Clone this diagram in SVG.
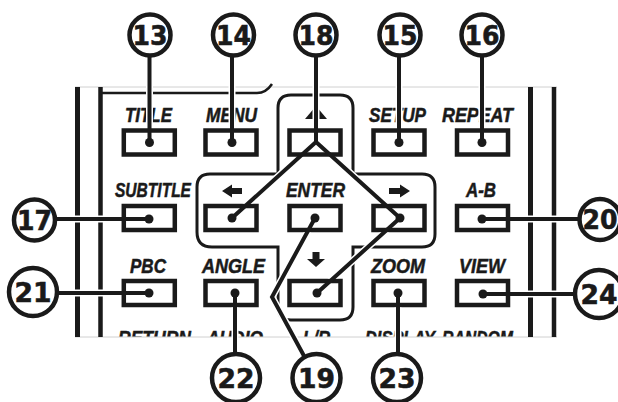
<svg xmlns="http://www.w3.org/2000/svg" width="618" height="402" viewBox="0 0 618 402">
<style>
.lbl{font-family:"Liberation Sans",Arial,sans-serif;font-weight:bold;font-style:italic;font-size:19.5px;fill:#1a1a1a;stroke:#1a1a1a;stroke-width:0.5}
.btn{fill:none;stroke:#1a1a1a;stroke-width:4.5}
.num{font-family:"DejaVu Sans",sans-serif;font-weight:bold;font-size:27px;fill:#1a1a1a;stroke:#1a1a1a;stroke-width:0.6;text-anchor:middle}
.cs{fill:#fff;stroke:#1a1a1a;stroke-width:4.5}
.ln{fill:none;stroke:#1a1a1a;stroke-width:4;stroke-linejoin:miter}
.halo{fill:none;stroke:#fff;stroke-width:7;stroke-linejoin:miter}
.dot{fill:#1a1a1a}
.frame{stroke:#1a1a1a;stroke-width:5}
.gray{stroke:#d0d0d0;stroke-width:1}
.arr{fill:#1a1a1a}
.pad{fill:none;stroke:#1a1a1a;stroke-width:3}
</style>
<defs>
<clipPath id="clip4"><rect x="0" y="0" width="618" height="336.5"/></clipPath>
<mask id="hm">
<rect x="0" y="0" width="618" height="402" fill="#fff"/>
<g fill="#000">
<rect x="121" y="128" width="57" height="29"/>
<rect x="203" y="128" width="57" height="29"/>
<rect x="287" y="128" width="57" height="29"/>
<rect x="371" y="128" width="57" height="29"/>
<rect x="454" y="128" width="57" height="29"/>
<rect x="121" y="203.5" width="57" height="29"/>
<rect x="203" y="203.5" width="57" height="29"/>
<rect x="287" y="203.5" width="57" height="29"/>
<rect x="371" y="203.5" width="57" height="29"/>
<rect x="454" y="203.5" width="57" height="29"/>
<rect x="121" y="278.5" width="57" height="29"/>
<rect x="203" y="278.5" width="57" height="29"/>
<rect x="287" y="278.5" width="57" height="29"/>
<rect x="371" y="278.5" width="57" height="29"/>
<rect x="454" y="278.5" width="57" height="29"/>
</g>
</mask>
</defs>
<rect width="618" height="402" fill="#fff"/>

<g id="frame">
<line class="gray" x1="75" y1="87" x2="557" y2="87"/>
<line class="gray" x1="75" y1="337" x2="557" y2="337"/>
<line class="frame" x1="77.5" y1="87" x2="77.5" y2="337"/>
<line class="frame" x1="100.5" y1="87" x2="100.5" y2="337" style="stroke-width:4.5"/>
<line class="frame" x1="530.5" y1="87" x2="530.5" y2="337"/>
<line class="frame" x1="554" y1="87" x2="554" y2="337" style="stroke-width:4.5"/>
<path d="M100,93 H257 Q266,93 272,84" fill="none" stroke="#1a1a1a" stroke-width="2.5"/>
<path class="pad" d="M278,174 V108 Q278,95 291,95 H340 Q353,95 353,108 V174 H422 Q435,174 435,187 V234 Q435,247 422,247 H353 V307 Q353,320 340,320 H291 Q278,320 278,307 V247 H212 Q197,247 197,232 V187 Q197,174 210,174 Z"/>
<g clip-path="url(#clip4)">
<text class="lbl" x="118" y="344.5" textLength="73" lengthAdjust="spacingAndGlyphs">RETURN</text>
<text class="lbl" x="207" y="344.5" textLength="56" lengthAdjust="spacingAndGlyphs">AUDIO</text>
<text class="lbl" x="303" y="344.5" textLength="27" lengthAdjust="spacingAndGlyphs">L/R</text>
<text class="lbl" x="365" y="344.5" textLength="70" lengthAdjust="spacingAndGlyphs">DISPLAY</text>
<text class="lbl" x="442" y="344.5" textLength="71" lengthAdjust="spacingAndGlyphs">RANDOM</text>
</g>
</g>

<g id="btn-title"><text class="lbl" x="125" y="122" textLength="47" lengthAdjust="spacingAndGlyphs">TITLE</text><rect class="btn" x="123.8" y="130.5" width="51" height="24"/></g>
<g id="btn-menu"><text class="lbl" x="206" y="122" textLength="51" lengthAdjust="spacingAndGlyphs">MENU</text><rect class="btn" x="205.5" y="130.5" width="51" height="24"/></g>
<g id="btn-up"><path class="arr" d="M316,106 L327,119 L305,119 Z"/><rect class="btn" x="289.5" y="130.5" width="51" height="24"/></g>
<g id="btn-setup"><text class="lbl" x="369" y="122" textLength="57" lengthAdjust="spacingAndGlyphs">SETUP</text><rect class="btn" x="373.5" y="130.5" width="51" height="24"/></g>
<g id="btn-repeat"><text class="lbl" x="442" y="122" textLength="71" lengthAdjust="spacingAndGlyphs">REPEAT</text><rect class="btn" x="457" y="130.5" width="51" height="24"/></g>

<g id="btn-subtitle"><text class="lbl" x="115" y="197" textLength="76" lengthAdjust="spacingAndGlyphs">SUBTITLE</text><rect class="btn" x="123.8" y="206" width="51" height="24"/></g>
<g id="btn-left"><path class="arr" d="M222,191 L232,184.5 L232,188 L242,188 L242,194 L232,194 L232,197.5 Z"/><rect class="btn" x="205.5" y="206" width="51" height="24"/></g>
<g id="btn-enter"><text class="lbl" x="286" y="197" textLength="59" lengthAdjust="spacingAndGlyphs">ENTER</text><rect class="btn" x="289.5" y="206" width="51" height="24"/></g>
<g id="btn-right"><path class="arr" d="M410,191 L400,184.5 L400,188 L389,188 L389,194 L400,194 L400,197.5 Z"/><rect class="btn" x="373.5" y="206" width="51" height="24"/></g>
<g id="btn-ab"><text class="lbl" x="466" y="197" textLength="30" lengthAdjust="spacingAndGlyphs">A-B</text><rect class="btn" x="457" y="206" width="51" height="24"/></g>

<g id="btn-pbc"><text class="lbl" x="130" y="273" textLength="36" lengthAdjust="spacingAndGlyphs">PBC</text><rect class="btn" x="123.8" y="281" width="51" height="24"/></g>
<g id="btn-angle"><text class="lbl" x="202" y="273" textLength="63" lengthAdjust="spacingAndGlyphs">ANGLE</text><rect class="btn" x="205.5" y="281" width="51" height="24"/></g>
<g id="btn-down"><path class="arr" d="M316,267 L325,259 L319.5,259 L319.5,252 L312.5,252 L312.5,259 L307,259 Z"/><rect class="btn" x="289.5" y="281" width="51" height="24"/></g>
<g id="btn-zoom"><text class="lbl" x="371" y="273" textLength="54" lengthAdjust="spacingAndGlyphs">ZOOM</text><rect class="btn" x="373.5" y="281" width="51" height="24"/></g>
<g id="btn-view"><text class="lbl" x="459" y="273" textLength="46" lengthAdjust="spacingAndGlyphs">VIEW</text><rect class="btn" x="457" y="281" width="51" height="24"/></g>

<g id="connectors">
<g mask="url(#hm)">
<path class="halo" d="M149.5,35 V142.5 M232,35 V142.5 M399,35 V142.5 M482,35 V142.5 M316,35 V142 M232,218 L316,142 L400,218 L317,293 M34,219 H149 M482,219 H600 M33,293 H149 M483,294 H599 M235,293 V378 M398,293 V378 M315,218 L272,297 L316,378"/>
</g>
<path class="ln" d="M149.5,35 V142.5 M232,35 V142.5 M399,35 V142.5 M482,35 V142.5 M316,35 V142 M232,218 L316,142 L400,218 L317,293 M34,219 H149 M482,219 H600 M33,293 H149 M483,294 H599 M235,293 V378 M398,293 V378 M315,218 L272,297 L316,378"/>
<g class="dot">
<circle cx="149.5" cy="142.5" r="4.5"/><circle cx="232" cy="142.5" r="4.5"/><circle cx="399" cy="142.5" r="4.5"/><circle cx="482" cy="142.5" r="4.5"/>
<circle cx="149" cy="219" r="4.5"/><circle cx="232" cy="218" r="4.5"/><circle cx="315" cy="218" r="4.5"/><circle cx="400" cy="218" r="4.5"/><circle cx="482" cy="219" r="4.5"/>
<circle cx="149" cy="293" r="4.5"/><circle cx="235" cy="293" r="4.5"/><circle cx="317" cy="293" r="4.5"/><circle cx="398" cy="293" r="4.5"/><circle cx="483" cy="294" r="4.5"/>
</g>
</g>

<g id="c13"><circle class="cs" cx="150" cy="35" r="20.5"/><text class="num" x="150" y="44.5" textLength="35" lengthAdjust="spacingAndGlyphs">13</text></g>
<g id="c14"><circle class="cs" cx="233.5" cy="35" r="20.5"/><text class="num" x="233.5" y="44.5" textLength="35" lengthAdjust="spacingAndGlyphs">14</text></g>
<g id="c18"><circle class="cs" cx="316" cy="35" r="20.5"/><text class="num" x="316" y="44.5" textLength="35" lengthAdjust="spacingAndGlyphs">18</text></g>
<g id="c15"><circle class="cs" cx="400" cy="35" r="20.5"/><text class="num" x="400" y="44.5" textLength="35" lengthAdjust="spacingAndGlyphs">15</text></g>
<g id="c16"><circle class="cs" cx="482" cy="35" r="20.5"/><text class="num" x="482" y="44.5" textLength="35" lengthAdjust="spacingAndGlyphs">16</text></g>
<g id="c17"><circle class="cs" cx="34.5" cy="220" r="20.5"/><text class="num" x="34.5" y="229.5" textLength="35" lengthAdjust="spacingAndGlyphs">17</text></g>
<g id="c20"><circle class="cs" cx="600" cy="219.5" r="20.5"/><text class="num" x="600" y="229" textLength="35" lengthAdjust="spacingAndGlyphs">20</text></g>
<g id="c21"><circle class="cs" cx="33" cy="292" r="24"/><text class="num" x="33" y="301.5" textLength="37" lengthAdjust="spacingAndGlyphs">21</text></g>
<g id="c24"><circle class="cs" cx="599" cy="294" r="24"/><text class="num" x="599" y="303.5" textLength="37" lengthAdjust="spacingAndGlyphs">24</text></g>
<g id="c22"><circle class="cs" cx="236" cy="378" r="24"/><text class="num" x="236" y="387.5" textLength="37" lengthAdjust="spacingAndGlyphs">22</text></g>
<g id="c19"><circle class="cs" cx="316.5" cy="378" r="24"/><text class="num" x="316.5" y="387.5" textLength="37" lengthAdjust="spacingAndGlyphs">19</text></g>
<g id="c23"><circle class="cs" cx="397" cy="378" r="24"/><text class="num" x="397" y="387.5" textLength="37" lengthAdjust="spacingAndGlyphs">23</text></g>
</svg>
